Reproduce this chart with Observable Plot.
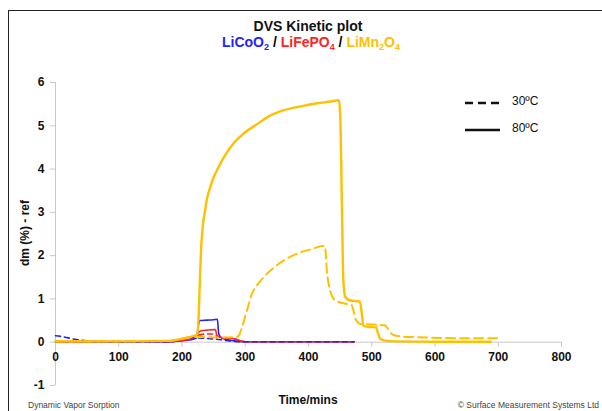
<!DOCTYPE html>
<html><head><meta charset="utf-8">
<script src="https://cdn.jsdelivr.net/npm/d3@7"></script>
<script src="https://cdn.jsdelivr.net/npm/@observablehq/plot@0.6"></script>
<style>
body{margin:0;background:#fff;font-family:"Liberation Sans",Arial,sans-serif;}
#wrap{position:relative;width:602px;height:411px;overflow:hidden;background:#fff;}
#frame{position:absolute;left:8px;top:10px;width:700px;height:500px;border-left:1.5px solid #222;border-top:1.5px solid #222;}
#chart{position:absolute;left:0;top:0;}
.t{position:absolute;white-space:nowrap;}
#title{left:0;width:616px;top:18px;text-align:center;font-weight:bold;font-size:14px;color:#111;}
#sub{left:0;width:622px;top:34px;text-align:center;font-weight:bold;font-size:14px;}
#sub sub{font-size:9px;vertical-align:-3px;}
#ylab{left:25px;top:233px;transform:translate(-50%,-50%) rotate(-90deg);font-weight:bold;font-size:12px;color:#111;}
#xlab{left:0;width:616px;top:393px;text-align:center;font-weight:bold;font-size:12px;color:#111;}
.foot{top:400px;font-size:8.5px;line-height:10px;color:#444;}
.leg{font-size:12px;color:#111;}
</style></head>
<body>
<div id="wrap">
  <div id="frame"></div>
  <div id="chart"></div>
  <div class="t" id="title">DVS Kinetic plot</div>
  <div class="t" id="sub"><span style="color:#2323ff">LiCoO<sub>2</sub></span> / <span style="color:#ff2525">LiFePO<sub>4</sub></span> / <span style="color:#ffc000">LiMn<sub>2</sub>O<sub>4</sub></span></div>
  <div class="t" id="ylab">dm (%) - ref</div>
  <div class="t" id="xlab">Time/mins</div>
  <div class="t foot" style="left:28px">Dynamic Vapor Sorption</div>
  <div class="t foot" style="right:3px">© Surface Measurement Systems Ltd</div>
  <svg class="t" style="left:462px;top:96px" width="42" height="40">
    <line x1="3" x2="38" y1="7" y2="7" stroke="#111" stroke-width="2.5" stroke-dasharray="8,5"/>
    <line x1="3" x2="38" y1="34" y2="34" stroke="#111" stroke-width="2.5"/>
  </svg>
  <div class="t leg" style="left:512px;top:94px">30ºC</div>
  <div class="t leg" style="left:512px;top:121px">80ºC</div>
</div>
<script>
const xTicks = [0,100,200,300,400,500,600,700,800];
const yTicks = [-1,0,1,2,3,4,5,6];

// LiMn2O4
const mn80T = [0,100,180,200,215,224,226,228,230,233,236,240,245,250,258,266,282,300,320,335,361,388,414,435,448,450,453,455,458,465,475,481,484,487,492,500,507,510,513,518,525,541,600,650,688];
const mn80V = [0.02,0.02,0.03,0.08,0.13,0.18,0.5,1.3,2.1,2.7,3.0,3.35,3.6,3.81,4.05,4.27,4.6,4.85,5.05,5.2,5.36,5.45,5.52,5.56,5.59,5.3,3.0,1.45,1.05,0.97,0.95,0.94,0.7,0.38,0.36,0.35,0.34,0.2,0.09,0.05,0.03,0.02,0.01,0.01,0.01];
const mn30T = [0,100,180,200,215,230,250,270,286,290,295,300,305,310,318,329,345,361,375,388,405,422,426,429,434,442,455,468,471,474,478,482,500,521,524,527,531,535,550,566,609,650,698];
const mn30V = [0.02,0.02,0.03,0.08,0.12,0.12,0.11,0.11,0.12,0.16,0.35,0.6,0.85,1.1,1.3,1.5,1.72,1.89,2.0,2.08,2.15,2.22,2.22,1.66,1.2,0.97,0.9,0.86,0.74,0.55,0.46,0.42,0.41,0.39,0.34,0.28,0.2,0.16,0.13,0.12,0.1,0.09,0.09];

// LiCoO2
const co80T = [0,100,180,195,215,223,226,228,240,250,256,258,261,266,275,290,300,472];
const co80V = [0.02,0.01,0.01,0.03,0.06,0.1,0.4,0.5,0.51,0.52,0.53,0.2,0.12,0.08,0.05,0.02,0.01,0.01];
const co30T = [0,10,20,30,45,60,80,120,180,195,205,215,225,235,245,255,265,275,290,472];
const co30V = [0.15,0.13,0.1,0.07,0.04,0.02,0.01,0.0,0.01,0.05,0.09,0.11,0.1,0.09,0.08,0.07,0.05,0.03,0.01,0.01];

// LiFePO4
const fe80T = [0,180,195,215,222,229,240,250,253,255,258,265,282,300,472];
const fe80V = [0.01,0.01,0.03,0.08,0.15,0.26,0.28,0.29,0.29,0.16,0.13,0.1,0.08,0.01,0.01];
const fe30T = [0,180,200,215,228,237,248,258,275,290,300,472];
const fe30V = [0.01,0.01,0.05,0.12,0.17,0.19,0.19,0.12,0.1,0.05,0.01,0.01];

const mk = (T, V) => T.map((t, i) => ({t, v: V[i]}));
const BLUE = "#2323ff", RED = "#ff2525", ORANGE = "#ffc000", AX = "#c8c8c8";
const FONT = "Liberation Sans, Arial, sans-serif";

const chart = Plot.plot({
  width: 602, height: 411,
  marginLeft: 55, marginRight: 41, marginTop: 82, marginBottom: 26,
  x: {domain: [0, 800], axis: null},
  y: {domain: [-1, 6], axis: null},
  style: {fontFamily: FONT, background: "transparent", overflow: "visible"},
  marks: [
    Plot.ruleX([0], {y1: -1, y2: 6, stroke: AX}),
    Plot.ruleY([0], {x1: 0, x2: 800, stroke: AX}),
    Plot.ruleY(yTicks, {y: d => d, x1: 0, x2: 0, insetLeft: -5, stroke: AX}),
    Plot.ruleX(xTicks, {x: d => d, y1: 0, y2: 0, insetBottom: -5, stroke: AX}),
    Plot.text(yTicks, {y: d => d, x: 0, dx: -11, textAnchor: "end", text: d => String(d), fontWeight: "bold", fontSize: 12, fill: "#111"}),
    Plot.text(xTicks, {x: d => d, y: 0, dy: 15, text: d => String(d), fontWeight: "bold", fontSize: 12, fill: "#111"}),
    Plot.line(mk(co80T, co80V), {x: "t", y: "v", stroke: BLUE, strokeWidth: 1.6, curve: "monotone-x"}),
    Plot.line(mk(fe80T, fe80V), {x: "t", y: "v", stroke: RED, strokeWidth: 1.6, curve: "monotone-x"}),
    Plot.line(mk(fe30T, fe30V), {x: "t", y: "v", stroke: RED, strokeWidth: 1.6, strokeDasharray: "5,4", curve: "monotone-x"}),
    Plot.line(mk(co30T, co30V), {x: "t", y: "v", stroke: BLUE, strokeWidth: 1.6, strokeDasharray: "5,4", curve: "monotone-x"}),
    Plot.line(mk(mn30T, mn30V), {x: "t", y: "v", stroke: ORANGE, strokeWidth: 2, strokeDasharray: "9,5", curve: "monotone-x"}),
    Plot.line(mk(mn80T, mn80V), {x: "t", y: "v", stroke: ORANGE, strokeWidth: 2.4, curve: "monotone-x"})
  ]
});
document.getElementById("chart").appendChild(chart);
</script>
</body></html>
